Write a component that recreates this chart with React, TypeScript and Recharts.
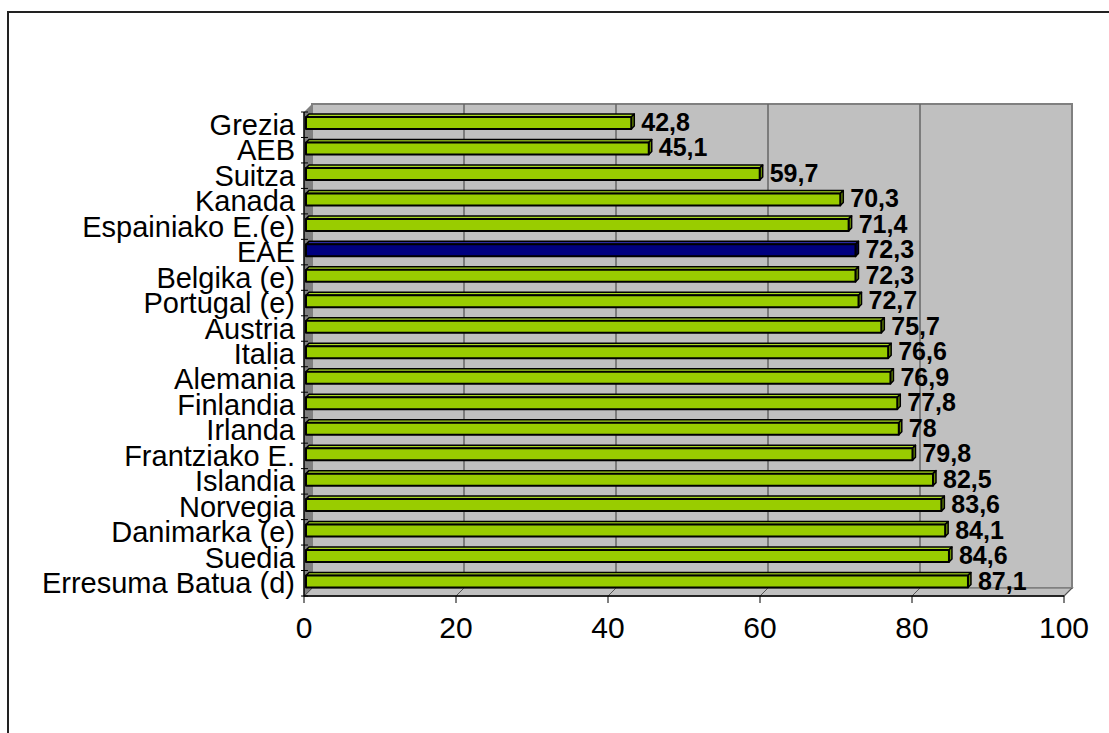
import React from 'react';
import { BarChart, Bar, XAxis, YAxis, Cell, LabelList, ReferenceArea } from 'recharts';

const countries = [
    'Grezia', 'AEB', 'Suitza', 'Kanada', 'Espainiako E.(e)', 'EAE', 'Belgika (e)',
    'Portugal (e)', 'Austria', 'Italia', 'Alemania', 'Finlandia', 'Irlanda',
    'Frantziako E.', 'Islandia', 'Norvegia', 'Danimarka (e)', 'Suedia', 'Erresuma Batua (d)',
];
const values = [
    42.8, 45.1, 59.7, 70.3, 71.4, 72.3, 72.3, 72.7, 75.7, 76.6, 76.9, 77.8, 78, 79.8,
    82.5, 83.6, 84.1, 84.6, 87.1,
];
const highlight = 'EAE';
const xTicks = [0, 20, 40, 60, 80, 100];

const data = countries.map((name, i) => ({ name, value: values[i] }));

const FONT = '"Liberation Sans", Arial, sans-serif';
const W = 1109;
const H = 733;
const M = { top: 112, right: 45, bottom: 77, left: 14 };
const Y_W = 290;
const X_H = 60;
const PLOT_H = H - M.top - M.bottom - X_H;
const BAND = PLOT_H / countries.length;
const DEPTH = 8;

// back wall, side wall and floor of the 3D plot box
const Wall = (props: any) => {
    const { x, y, width: w, height: h } = props;
    const d = DEPTH;
    return (
        <g>
            <polygon
                points={`${x},${y} ${x + d},${y - d} ${x + d},${y + h - d} ${x},${y + h}`}
                fill="#808080"
            />
            <rect x={x + d} y={y - d} width={w} height={h} fill="#c0c0c0" stroke="#808080" strokeWidth={2} />
            <polygon
                points={`${x},${y + h} ${x + d},${y + h - d} ${x + w + d},${y + h - d} ${x + w},${y + h}`}
                fill="#c0c0c0"
                stroke="#808080"
                strokeWidth={1.5}
            />
            {xTicks.map((t) => {
                const fx = x + (t / 100) * w;
                return (
                    <g key={t}>
                        {t > 0 && t < 100 && (
                            <line x1={fx + d} y1={y - d} x2={fx + d} y2={y + h - d} stroke="#666" strokeWidth={1.5} />
                        )}
                        <line x1={fx} y1={y + h} x2={fx + d} y2={y + h - d} stroke="#555" strokeWidth={1} />
                    </g>
                );
            })}
        </g>
    );
};

const Bar3D = (props: any) => {
    const { x, y, width, height, payload } = props;
    const hi = payload && payload.name === highlight;
    const front = hi ? '#000080' : '#99cc00';
    const topC = hi ? '#2a2aa0' : '#a8d820';
    const side = hi ? '#000050' : '#6b8f00';
    const bx = x + 2;
    const by = y - 2;
    const d = 3;
    return (
        <g stroke="#000" strokeWidth={1.5} strokeLinejoin="round">
            <polygon
                points={`${bx},${by} ${bx + d},${by - d} ${bx + width + d},${by - d} ${bx + width},${by}`}
                fill={topC}
            />
            <polygon
                points={`${bx + width},${by} ${bx + width + d},${by - d} ${bx + width + d},${by + height - d} ${bx + width},${by + height}`}
                fill={side}
            />
            <rect x={bx} y={by} width={width} height={height} fill={front} strokeWidth={2} />
        </g>
    );
};

const ValueLabel = (props: any) => {
    const { x, y, width, height, value } = props;
    return (
        <text
            x={x + width + 12}
            y={y + height / 2 - 3}
            dominantBaseline="central"
            fontFamily={FONT}
            fontWeight="bold"
            fontSize={25}
            fill="#000"
        >
            {String(value).replace('.', ',')}
        </text>
    );
};

const CategoryTick = (props: any) => {
    const { x, y, payload, index } = props;
    const ax = x + 5;
    return (
        <g>
            <line x1={ax} y1={y - BAND / 2} x2={ax + 7} y2={y - BAND / 2} stroke="#000" strokeWidth={1} />
            {index === countries.length - 1 && (
                <line x1={ax} y1={y + BAND / 2} x2={ax + 7} y2={y + BAND / 2} stroke="#000" strokeWidth={1} />
            )}
            <text x={x - 1} y={y} textAnchor="end" dominantBaseline="central" fontFamily={FONT} fontSize={29} fill="#000">
                {payload.value}
            </text>
        </g>
    );
};

export default function App() {
    return (
        <div style={{ position: 'absolute', left: 0, top: 0, width: W, height: H, background: '#fff' }}>
            <div
                style={{
                    position: 'absolute',
                    left: 7,
                    top: 11,
                    width: W,
                    height: H,
                    borderLeft: '2px solid #222',
                    borderTop: '2px solid #222',
                }}
            />
            <div style={{ position: 'absolute', left: 0, top: 0 }}>
                <BarChart width={W} height={H} data={data} layout="vertical" margin={M}>
                    <XAxis
                        type="number"
                        domain={[0, 100]}
                        ticks={xTicks}
                        height={X_H}
                        axisLine={{ stroke: '#000', strokeWidth: 1.5 }}
                        tickLine={{ stroke: '#000' }}
                        tickSize={7}
                        tickMargin={14}
                        tick={{ fontSize: 30, fontFamily: FONT, fill: '#000' }}
                    />
                    <YAxis
                        type="category"
                        dataKey="name"
                        width={Y_W}
                        axisLine={{ stroke: '#000', strokeWidth: 1.5 }}
                        tickLine={false}
                        tick={<CategoryTick />}
                        interval={0}
                    />
                    <ReferenceArea x1={0} x2={100} shape={<Wall />} ifOverflow="visible" />
                    <Bar dataKey="value" barSize={12} shape={<Bar3D />} isAnimationActive={false}>
                        {data.map((d) => (
                            <Cell key={d.name} fill={d.name === highlight ? '#000080' : '#99cc00'} />
                        ))}
                        <LabelList dataKey="value" content={<ValueLabel />} />
                    </Bar>
                </BarChart>
            </div>
        </div>
    );
}
